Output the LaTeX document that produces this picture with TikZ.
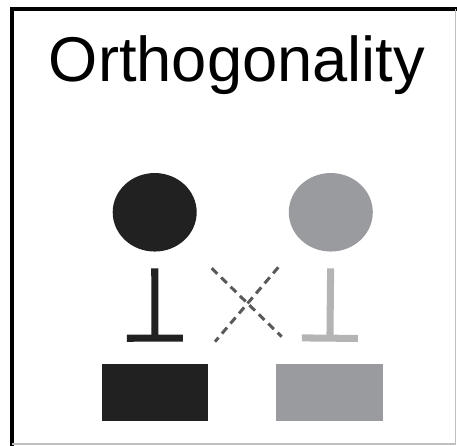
\documentclass[tikz,border=0pt]{standalone}
\usepackage{fontspec}
\setmainfont{Liberation Sans}
\usetikzlibrary{arrows.meta,shapes.geometric}
\definecolor{darkfill}{HTML}{212121}
\definecolor{midfill}{HTML}{999B9E}
\definecolor{lightbar}{HTML}{B4B4B4}
\begin{document}
\begin{tikzpicture}[scale=1.0,
    blob/.style={ellipse, minimum width=1.68cm, minimum height=1.57cm, inner sep=0pt},
    target/.style={rectangle, minimum width=2.13cm, minimum height=1.13cm, inner sep=0pt},
    inhib/.style={line width=4pt, -{Bar[width=1.12cm]}, shorten <=0.33cm, shorten >=0.44cm},
    cross/.style={line width=1.7pt, dash pattern=on 4.5pt off 3pt, black!65}]
            \useasboundingbox (0,0) rectangle (9.14,8.92);
            % frame
            \draw[line width=2pt] (0.24,0) -- (0.24,8.74) -- (9.14,8.74);
            \draw[black!25, line width=0.6pt] (0.24,0.04) -- (9.11,0.04) -- (9.11,8.74);
            \node[anchor=base, font=\fontsize{36}{43}\selectfont, inner sep=0pt] (title) at (4.74,7.29) {Orthogonality};
            % regulators and targets
            \node[blob, fill=darkfill] (c1) at (3.094,4.674) {};
            \node[blob, fill=midfill] (c2) at (6.616,4.674) {};
            \node[target, fill=darkfill] (r1) at (3.10,1.074) {};
            \node[target, fill=midfill] (r2) at (6.594,1.074) {};
            \draw[inhib, darkfill] (c1.south) -- (r1.north);
            \draw[inhib, lightbar] (c2.south) -- (r2.north);
            % no cross talk
            \coordinate (xa) at (4.234,3.554);
            \coordinate (xb) at (5.634,2.186);
            \coordinate (xc) at (5.566,3.574);
            \coordinate (xd) at (4.30,2.086);
            \draw[cross] (xa) -- (xb);
            \draw[cross] (xc) -- (xd);
        \end{tikzpicture}
\end{document}
